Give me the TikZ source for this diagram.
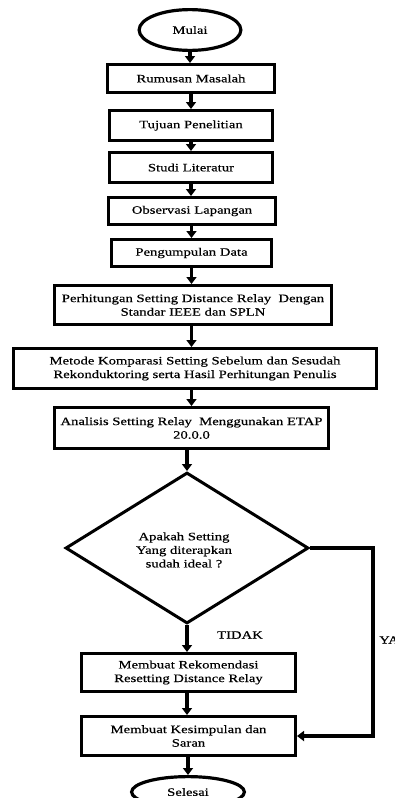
\documentclass[tikz,border=0pt]{standalone}
\usepackage{fontspec}
\setmainfont{Liberation Serif}[FakeStretch=1.3,FakeBold=0.5]
\usetikzlibrary{arrows.meta,shapes.geometric}
\begin{document}
\begin{tikzpicture}[x=1pt,y=-1pt,
  every node/.style={font=\fontsize{11.3}{13.6}\selectfont, align=center},
  box/.style={draw, line width=3.2pt, inner sep=1pt},
  term/.style={draw, ellipse, line width=3.2pt, inner sep=0pt},
  decide/.style={draw, diamond, line width=3pt, inner sep=0pt},
  arr/.style={line width=3.2pt, -{Triangle[width=10pt,length=7pt]}},
  lbl/.style={inner sep=1pt}]
\useasboundingbox (0,0) rectangle (394,798);
\node[term, minimum width=101.8pt, minimum height=40.8pt] (mul) at (190,30) {Mulai};
\node[box, minimum width=166.8pt, minimum height=27.8pt] (rum) at (191,78.5) {Rumusan Masalah};
\node[box, minimum width=162.8pt, minimum height=29.8pt] (tuj) at (191,125.5) {Tujuan Penelitian};
\node[box, minimum width=162.8pt, minimum height=29.8pt] (stu) at (191,167.5) {Studi Literatur};
\node[box, minimum width=166.8pt, minimum height=26.8pt] (obs) at (192,211) {Observasi Lapangan};
\node[box, minimum width=159.8pt, minimum height=26.8pt] (pen) at (191.5,253) {Pengumpulan Data};
\node[box, minimum width=276.8pt, minimum height=38.8pt] (per) at (193,305) {Perhitungan Setting Distance Relay~ Dengan\\Standar IEEE dan SPLN};
\node[box, minimum width=362.8pt, minimum height=39.8pt] (met) at (195,368.5) {Metode Komparasi Setting Sebelum dan Sesudah\\Rekonduktoring serta Hasil Perhitungan Penulis};
\node[box, minimum width=273.8pt, minimum height=40.8pt] (ana) at (191.5,428) {Analisis Setting Relay~ Menggunakan ETAP\\20.0.0};
\node[decide, minimum width=243pt, minimum height=151pt] (dia) at (187,548) {};
\node[lbl] (diat) at (184,550) {Apakah Setting\\Yang diterapkan\\sudah ideal ?};
\node[box, minimum width=213.8pt, minimum height=37.8pt] (rek) at (188.5,672.5) {Membuat Rekomendasi\\Resetting Distance Relay};
\node[box, minimum width=213.8pt, minimum height=38.8pt] (kes) at (188.5,736) {Membuat Kesimpulan dan\\Saran};
\node[term, minimum width=112.8pt, minimum height=30.8pt] (sel) at (188,792) {Selesai};
\node[lbl] (tidak) at (240,635) {TIDAK};
\node[lbl, anchor=west] (ya) at (378,640) {YA};
\draw[arr] (mul.south) -- (mul.south |- rum.north);
\draw[arr] (rum.south) -- (rum.south |- tuj.north);
\draw[arr] (tuj.south) -- (tuj.south |- stu.north);
\draw[arr] (stu.south) -- (stu.south |- obs.north);
\draw[arr] (obs.south -| pen.south) -- (pen.north);
\draw[arr] (pen.south) -- (pen.south |- per.north);
\draw[arr] (pen.south |- per.south) -- (pen.south |- met.north);
\draw[arr] (pen.south |- met.south) -- (pen.south |- ana.north);
\draw[arr] (dia.north |- ana.south) -- (dia.north);
\draw[arr] (dia.south) -- (dia.south |- rek.north);
\draw[arr] (rek.south -| dia.south) -- (dia.south |- kes.north);
\draw[arr] (kes.south -| sel.north) -- (sel.north);
\draw[arr] (dia.east) -- ++(63,0) |- (kes.east);
\end{tikzpicture}
\end{document}
